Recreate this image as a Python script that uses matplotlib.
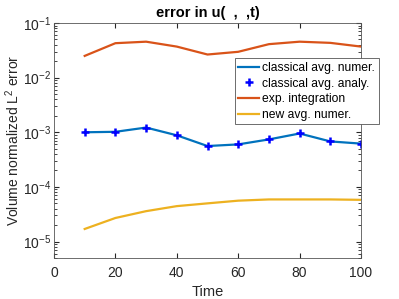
import numpy as np
import matplotlib
matplotlib.use("Agg")
import matplotlib.pyplot as plt

plt.rcParams['font.family'] = ['Liberation Sans', 'DejaVu Sans']
plt.rcParams['mathtext.fontset'] = 'custom'
plt.rcParams['mathtext.rm'] = 'Liberation Sans'

# data
time = [10, 20, 30, 40, 50, 60, 70, 80, 90, 100]
classical_numer = [1.0e-3, 1.02e-3, 1.22e-3, 8.8e-4, 5.6e-4, 6.0e-4, 7.4e-4, 9.5e-4, 6.8e-4, 6.2e-4]
classical_analy = [1.0e-3, 1.02e-3, 1.22e-3, 8.8e-4, 5.6e-4, 6.0e-4, 7.4e-4, 9.5e-4, 6.8e-4, 6.2e-4]
exp_integration = [2.5e-2, 4.27e-2, 4.55e-2, 3.7e-2, 2.65e-2, 2.97e-2, 4.1e-2, 4.55e-2, 4.33e-2, 3.7e-2]
new_numer = [1.7e-5, 2.7e-5, 3.6e-5, 4.45e-5, 5.0e-5, 5.6e-5, 5.9e-5, 5.9e-5, 5.9e-5, 5.8e-5]

fig = plt.figure(figsize=(3.99, 2.99), dpi=100)
ax = fig.add_axes([54/399, 1 - 258/299, (361 - 54)/399, (258 - 23)/299])

ax.plot(time, classical_numer, color='#0072BD', lw=1.6, label='classical avg. numer.')
ax.plot(time, classical_analy, linestyle='none', marker='+', color='blue',
        markersize=6, markeredgewidth=1.8, label='classical avg. analy.')
ax.plot(time, exp_integration, color='#D95319', lw=1.6, label='exp. integration')
ax.plot(time, new_numer, color='#EDB120', lw=1.6, label='new avg. numer.')

ax.set_yscale('log')
ax.set_xlim(0, 100)
ax.set_ylim(5e-6, 1e-1)
ax.set_xticks([0, 20, 40, 60, 80, 100])
ax.tick_params(which='both', direction='in', top=True, right=True,
               labelsize=10, colors='#262626')
ax.tick_params(axis='x', pad=6)
ax.tick_params(axis='y', pad=2)
ax.tick_params(which='major', length=3.5)
ax.tick_params(which='minor', length=2)
for s in ax.spines.values():
    s.set_color('#555555')
    s.set_linewidth(0.6)

ax.set_xlabel('Time', fontsize=10.5, color='#262626', labelpad=3)
ax.set_ylabel('Volume normalized L$^2$ error', fontsize=10, color='#262626')
ax.yaxis.set_label_coords(-0.105, 0.5)
ax.set_title('error in u(  ,  ,t)', fontsize=10.5, fontweight='bold', pad=4)

leg = ax.legend(loc='upper left', bbox_to_anchor=(234.7/399, 1 - 58.3/299),
                bbox_transform=fig.transFigure, fontsize=8.7, fancybox=False,
                framealpha=1, edgecolor='#555555', borderpad=0.3,
                labelspacing=0.3, handlelength=1.7, handletextpad=0.3,
                borderaxespad=0)
leg.get_frame().set_linewidth(0.6)

fig.savefig('out.png', dpi=100)
